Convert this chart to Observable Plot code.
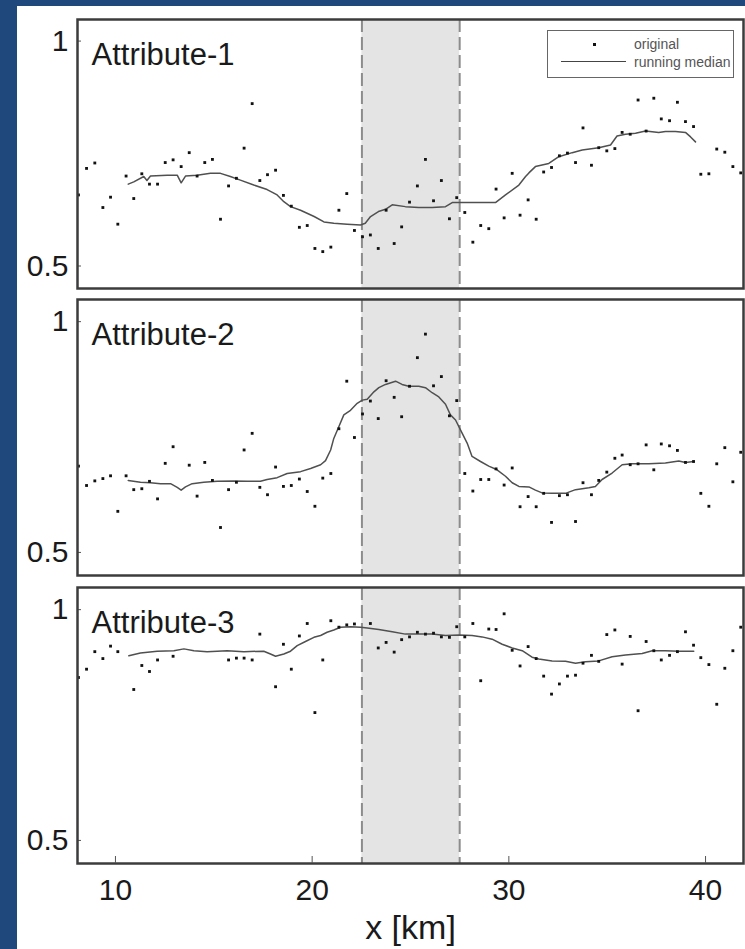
<!DOCTYPE html>
<html>
<head>
<meta charset="utf-8">
<script src="https://cdn.jsdelivr.net/npm/d3@7"></script>
<script src="https://cdn.jsdelivr.net/npm/@observablehq/plot@0.6"></script>
<style>
html, body { margin: 0; padding: 0; background: #1f497d; }
#fig { position: relative; width: 745px; height: 949px; background: #1f497d; overflow: hidden; font-family: "Liberation Sans", Arial, sans-serif; }
#paper { position: absolute; left: 17px; top: 6px; width: 728px; height: 943px; background: #ffffff; }
.panel { position: absolute; left: 17px; }
#legend { position: absolute; left: 547px; top: 30px; width: 185px; height: 46px; border: 1.5px solid #666; background: #fff; }
#legend .dot { position: absolute; left: 45px; top: 12px; width: 3px; height: 3px; background: #111; }
#legend .ln { position: absolute; left: 13px; top: 30px; width: 65px; height: 0; border-top: 1.5px solid #444; }
#legend .t { position: absolute; left: 86px; font-size: 14px; color: #555; line-height: 16px; white-space: nowrap; }
</style>
</head>
<body>
<div id="fig">
  <div id="paper"></div>
</div>
<script>
// station positions along the profile (km)
const xs = [8.12, 8.53, 8.95, 9.36, 9.75, 10.12, 10.54, 10.93, 11.34, 11.73, 12.14, 12.53, 12.93, 13.34, 13.75, 14.15, 14.54, 14.93, 15.34, 15.75,
  16.15, 16.54, 16.95, 17.34, 17.73, 18.14, 18.54, 18.94, 19.35, 19.75, 20.14, 20.54, 20.95, 21.36, 21.76, 22.15, 22.56, 22.96, 23.36, 23.76,
  24.17, 24.55, 24.95, 25.35, 25.76, 26.17, 26.57, 26.98, 27.35, 27.76, 28.17, 28.57, 28.98, 29.35, 29.76, 30.17, 30.57, 30.98, 31.39, 31.77,
  32.17, 32.57, 32.98, 33.39, 33.77, 34.2, 34.57, 34.98, 35.39, 35.76, 36.17, 36.57, 36.98, 37.37, 37.75, 38.17, 38.57, 38.98, 39.39, 39.76,
  40.17, 40.57, 40.98, 41.39, 41.79];

// original values per attribute (null = not visible)
const attr1 = [0.658, 0.717, 0.729, 0.630, 0.653, 0.593, 0.700, 0.650, 0.705, 0.682, 0.682, 0.730, 0.736, 0.721, 0.752, 0.700, 0.730, 0.737, 0.604, 0.678,
  0.695, 0.762, 0.861, 0.690, 0.703, 0.713, 0.657, 0.633, 0.586, 0.590, 0.539, 0.532, 0.542, 0.624, 0.661, 0.579, 0.565, 0.569, 0.539, 0.624,
  0.550, 0.587, 0.642, 0.678, 0.737, 0.645, 0.690, 0.605, 0.652, 0.619, 0.553, 0.590, 0.583, 0.671, 0.607, 0.706, 0.613, 0.647, 0.604, 0.709,
  0.719, 0.745, 0.751, 0.730, 0.807, 0.724, 0.763, 0.756, 0.761, 0.797, 0.793, 0.869, 0.800, 0.873, 0.827, 0.823, 0.864, 0.821, 0.810, 0.704,
  0.705, 0.760, 0.753, 0.721, 0.707];

const attr2 = [0.687, 0.645, 0.655, 0.660, 0.666, 0.589, 0.666, 0.636, 0.638, 0.654, 0.616, 0.693, 0.729, null, 0.689, 0.622, 0.695, 0.656, 0.554, 0.636,
  0.652, 0.722, 0.758, 0.641, 0.625, 0.685, 0.643, 0.645, 0.659, 0.632, 0.600, 0.661, 0.671, 0.768, 0.871, 0.749, 0.800, 0.828, 0.790, 0.872,
  0.836, 0.794, 0.860, 0.922, 0.973, 0.861, 0.881, 0.796, 0.829, 0.671, 0.633, 0.658, 0.658, 0.681, 0.646, 0.683, 0.599, 0.621, 0.599, 0.628,
  0.565, 0.623, 0.625, 0.567, 0.651, 0.625, 0.656, 0.674, 0.704, 0.711, 0.690, 0.692, 0.733, 0.679, 0.735, 0.731, 0.721, 0.695, 0.697, 0.628,
  0.600, 0.692, 0.727, 0.653, 0.717];

const attr3 = [0.853, 0.871, 0.909, 0.894, 0.921, 0.909, null, 0.827, 0.879, 0.866, 0.891, null, 0.899, null, null, null, null, null, null, 0.891,
  0.895, 0.895, 0.891, 0.947, null, 0.833, 0.925, 0.871, 0.943, 0.970, 0.777, 0.891, 0.976, 0.962, 0.967, 0.969, null, 0.970, 0.917, 0.929,
  0.908, 0.935, 0.941, 0.951, 0.947, 0.949, 0.941, 0.940, 0.963, 0.941, 0.970, 0.846, 0.958, 0.957, 0.991, 0.912, 0.878, 0.920, 0.894, 0.856,
  0.817, 0.839, 0.856, 0.858, 0.884, 0.901, 0.888, 0.946, 0.956, 0.882, 0.942, 0.781, 0.931, 0.911, 0.891, 0.901, 0.909, 0.952, 0.923, 0.896,
  0.881, 0.795, 0.873, 0.911, 0.962];

// running medians
const medX1 = [10.65, 10.93, 11.44, 11.6, 11.78, 12.63, 13.14, 13.34, 13.56, 14.15, 14.83, 15.34, 15.84, 16.35, 17.03, 17.71, 18.22, 18.56, 18.9, 19.41,
  20.1, 20.6, 21.1, 21.78, 22.46, 22.7, 22.97, 23.37, 23.73, 24.07, 24.74, 25.42, 26.1, 26.78, 27.12, 27.8, 28.47, 29.32, 29.83, 30.51,
  30.85, 31.02, 31.35, 32.03, 32.54, 33.22, 33.73, 34.57, 35.17, 35.5, 35.93, 36.44, 36.95, 37.62, 37.96, 38.47, 38.98, 39.24, 39.49];
const med1 = [0.682, 0.687, 0.699, 0.690, 0.700, 0.702, 0.702, 0.685, 0.700, 0.702, 0.706, 0.706, 0.699, 0.691, 0.680, 0.670, 0.658, 0.643, 0.632, 0.624,
  0.610, 0.598, 0.595, 0.593, 0.591, 0.595, 0.610, 0.621, 0.626, 0.636, 0.632, 0.630, 0.630, 0.632, 0.641, 0.641, 0.641, 0.641, 0.658, 0.680,
  0.699, 0.707, 0.721, 0.728, 0.743, 0.752, 0.758, 0.763, 0.769, 0.789, 0.793, 0.795, 0.800, 0.797, 0.799, 0.799, 0.797, 0.787, 0.776];

const medX2 = [10.65, 11.27, 11.78, 12.29, 12.8, 13.14, 13.34, 13.56, 13.9, 14.49, 15.17, 16.0, 16.7, 17.37, 17.71, 18.22, 18.73, 19.41, 19.92, 20.43,
  20.68, 20.94, 21.1, 21.36, 21.61, 21.95, 22.29, 22.55, 22.8, 23.14, 23.39, 23.73, 24.24, 24.57, 24.91, 25.42, 25.76, 26.1, 26.44, 26.78,
  27.03, 27.29, 27.63, 27.88, 28.13, 28.56, 28.98, 29.4, 29.83, 30.17, 30.51, 31.02, 31.35, 31.69, 32.2, 32.88, 33.39, 34.07, 34.4, 34.74,
  35.25, 35.76, 36.27, 37.12, 37.96, 38.64, 38.98, 39.4];
const med2 = [0.656, 0.652, 0.651, 0.649, 0.649, 0.641, 0.635, 0.642, 0.649, 0.652, 0.654, 0.655, 0.654, 0.654, 0.658, 0.662, 0.671, 0.675, 0.682, 0.690,
  0.699, 0.722, 0.747, 0.773, 0.798, 0.808, 0.823, 0.830, 0.832, 0.848, 0.857, 0.864, 0.871, 0.864, 0.860, 0.860, 0.857, 0.846, 0.837, 0.821,
  0.798, 0.787, 0.758, 0.737, 0.708, 0.697, 0.687, 0.679, 0.665, 0.651, 0.643, 0.642, 0.635, 0.629, 0.628, 0.628, 0.636, 0.640, 0.643, 0.658,
  0.672, 0.690, 0.692, 0.692, 0.694, 0.698, 0.695, 0.697];

const medX3 = [10.68, 11.27, 12.12, 12.97, 13.48, 13.99, 14.66, 15.68, 16.53, 17.54, 17.88, 18.14, 18.56, 18.9, 19.24, 19.66, 20.09, 20.43, 20.76, 21.1,
  21.44, 21.95, 22.46, 22.8, 23.39, 24.07, 24.74, 25.42, 26.1, 26.78, 27.46, 28.13, 28.64, 29.15, 29.66, 30.17, 30.68, 31.18, 31.52, 32.2,
  32.88, 33.39, 33.9, 34.57, 35.25, 35.93, 36.78, 37.29, 37.96, 38.64, 39.4];
const med3 = [0.900, 0.906, 0.910, 0.911, 0.915, 0.911, 0.909, 0.911, 0.909, 0.910, 0.904, 0.899, 0.904, 0.910, 0.922, 0.931, 0.940, 0.944, 0.951, 0.956,
  0.962, 0.963, 0.962, 0.960, 0.957, 0.952, 0.947, 0.947, 0.947, 0.944, 0.945, 0.944, 0.941, 0.936, 0.925, 0.917, 0.911, 0.897, 0.893, 0.889,
  0.888, 0.884, 0.887, 0.889, 0.898, 0.902, 0.905, 0.911, 0.911, 0.910, 0.910];

const labels = ["Attribute-1", "Attribute-2", "Attribute-3"];
const xTicks = [10, 20, 30, 40];
const yTicks = [0.5, 1];
const bandStart = 22.53;
const bandEnd = 27.5;
const xLabel = "x [km]";
const legendItems = ["original", "running median"];

const xDomain = [8.07, 41.93];
const yDomain = [0.45, 1.048];
const FONT = "'Liberation Sans', Arial, Helvetica, sans-serif";

function panel({values, medX, medY, label, top, height, marginTop, marginBottom, showX}) {
  const pts = xs.map((x, i) => ({x, y: values[i]})).filter(d => d.y != null);
  const med = medX.map((x, i) => ({x, y: medY[i]}));
  const marks = [
    Plot.rect([{start: bandStart, end: bandEnd}], {x1: "start", x2: "end", fill: "#e4e4e4"}),
    Plot.ruleX([bandStart, bandEnd], {stroke: "#8c8c8c", strokeWidth: 2, strokeDasharray: "13,5"}),
    Plot.line(med, {x: "x", y: "y", stroke: "#505050", strokeWidth: 1.5}),
    Plot.dot(pts, {x: "x", y: "y", symbol: "square", r: 1.6, fill: "#111"}),
    Plot.axisY(yTicks, {tickSize: -4, tickPadding: 13, fontSize: 30, tickFormat: d => String(d), stroke: "#555", fill: "#1a1a1a"}),
    Plot.frame({stroke: "#3c3c3c", strokeWidth: 2.5}),
    Plot.text([label], {text: d => d, frameAnchor: "top-left", textAnchor: "start", lineAnchor: "top", dx: 14, dy: 23, fontSize: 31, fill: "#1a1a1a"})
  ];
  if (showX) {
    marks.push(Plot.axisX(xTicks, {tickSize: -7, tickPadding: 22, fontSize: 30, tickFormat: d => String(d), stroke: "#555", fill: "#1a1a1a"}));
    marks.push(Plot.text([xLabel], {text: d => d, frameAnchor: "bottom", lineAnchor: "middle", dy: 65, fontSize: 34, fill: "#1a1a1a"}));
  }
  const svg = Plot.plot({
    width: 728, height, marginLeft: 60, marginRight: 2, marginTop, marginBottom,
    x: showX ? {domain: xDomain, label: null} : {domain: xDomain, label: null, axis: null},
    y: {domain: yDomain, label: null},
    style: {fontFamily: FONT, background: "transparent", overflow: "visible", color: "#1a1a1a"},
    marks
  });
  svg.classList.add("panel");
  svg.style.position = "absolute";
  svg.style.left = "17px";
  svg.style.top = top + "px";
  return svg;
}

const fig = document.getElementById("fig");
fig.appendChild(panel({values: attr1, medX: medX1, medY: med1, label: labels[0], top: 6, height: 286, marginTop: 13, marginBottom: 4, showX: false}));
fig.appendChild(panel({values: attr2, medX: medX2, medY: med2, label: labels[1], top: 289, height: 290, marginTop: 10, marginBottom: 4, showX: false}));
fig.appendChild(panel({values: attr3, medX: medX3, medY: med3, label: labels[2], top: 577, height: 372, marginTop: 10, marginBottom: 86, showX: true}));

// legend box inside the first panel
const lg = document.createElement("div");
lg.id = "legend";
const dot = document.createElement("div"); dot.className = "dot"; lg.appendChild(dot);
const ln = document.createElement("div"); ln.className = "ln"; lg.appendChild(ln);
const t1 = document.createElement("div"); t1.className = "t"; t1.style.top = "5px"; t1.textContent = legendItems[0]; lg.appendChild(t1);
const t2 = document.createElement("div"); t2.className = "t"; t2.style.top = "23px"; t2.textContent = legendItems[1]; lg.appendChild(t2);
fig.appendChild(lg);
</script>
</body>
</html>
